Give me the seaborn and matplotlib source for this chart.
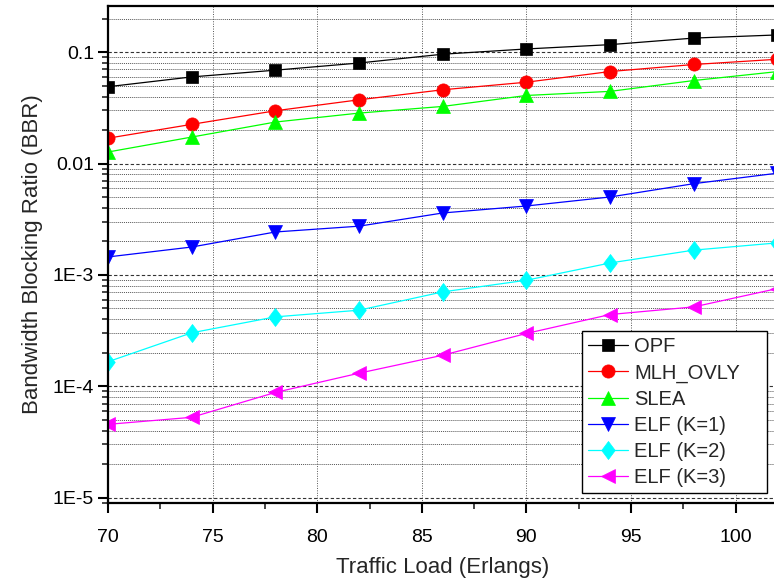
import numpy as np
import pandas as pd
import matplotlib
matplotlib.use("Agg")
import matplotlib.pyplot as plt
import matplotlib.ticker as mticker
from matplotlib.path import Path
import seaborn as sns

# traffic load values (Erlangs)
loads = [70, 74, 78, 82, 86, 90, 94, 98, 102]

# blocking ratio per algorithm
opf = [0.049, 0.060, 0.069, 0.080, 0.096, 0.107, 0.117, 0.134, 0.143]
mlh_ovly = [0.0169, 0.0225, 0.0298, 0.0374, 0.046, 0.0538, 0.0671, 0.0776, 0.0865]
slea = [0.0127, 0.0173, 0.0236, 0.0284, 0.0326, 0.0409, 0.0445, 0.0557, 0.067]
elf_k1 = [0.00145, 0.00178, 0.00243, 0.00274, 0.0036, 0.00416, 0.00501, 0.0066, 0.0082]
elf_k2 = [0.000166, 0.000302, 0.00042, 0.000482, 0.000704, 0.000896, 0.00128, 0.00167, 0.00194]
elf_k3 = [4.55e-5, 5.26e-5, 8.8e-5, 1.31e-4, 1.9e-4, 2.98e-4, 4.41e-4, 5.16e-4, 7.55e-4]

series_names = ["OPF", "MLH_OVLY", "SLEA", "ELF (K=1)", "ELF (K=2)", "ELF (K=3)"]
series_values = [opf, mlh_ovly, slea, elf_k1, elf_k2, elf_k3]

y_ticks = [1e-5, 1e-4, 1e-3, 1e-2, 1e-1]
y_tick_labels = ["1E-5", "1E-4", "1E-3", "0.01", "0.1"]
x_ticks = [70, 75, 80, 85, 90, 95, 100]

# diamond a bit narrower than tall, like the original
diamond = Path([(0, 1), (0.75, 0), (0, -1), (-0.75, 0), (0, 1)],
               [Path.MOVETO, Path.LINETO, Path.LINETO, Path.LINETO, Path.CLOSEPOLY])

colors = ["#000000", "#ff0000", "#00ff00", "#0000ff", "#00ffff", "#ff00ff"]
markers = ["s", "o", "^", "v", diamond, "<"]
msizes = [8.5, 9.5, 10, 10, 13, 10]

sns.set_style("ticks")
plt.rcParams["font.family"] = ["Liberation Sans", "DejaVu Sans"]

fig = plt.figure(figsize=(7.74, 5.85), dpi=100)
ax = fig.add_axes([0.1395, 0.1407, 0.865, 0.849])

for name, vals, c, m, ms in zip(series_names, series_values, colors, markers, msizes):
    df = pd.DataFrame({"load": loads, "bbr": vals})
    sns.lineplot(data=df, x="load", y="bbr", ax=ax, label=name, color=c,
                 marker=m, markersize=ms, markeredgecolor=c, markeredgewidth=0.5,
                 linewidth=0.9)

ax.set_yscale("log")
ax.set_xlim(70, 102)
ax.set_ylim(9e-6, 0.26)

ax.set_yticks(y_ticks)
ax.set_yticklabels(y_tick_labels)
ax.yaxis.set_minor_locator(mticker.LogLocator(base=10, subs=np.arange(2, 10), numticks=20))
ax.yaxis.set_minor_formatter(mticker.NullFormatter())
ax.set_xticks(x_ticks)
ax.xaxis.set_minor_locator(mticker.MultipleLocator(2.5))

ax.grid(True, which="major", axis="y", linestyle=(0, (3, 2)), color="#333333", linewidth=0.8)
ax.grid(True, which="minor", axis="y", linestyle=(0, (1, 1)), color="#555555", linewidth=0.7)
ax.grid(True, which="major", axis="x", linestyle=(0, (1, 1.5)), color="#555555", linewidth=0.7)

ax.tick_params(axis="both", which="major", direction="out", length=7, width=1.5,
               labelsize=14, colors="black")
ax.tick_params(axis="both", which="minor", direction="out", length=4, width=1.2)
ax.tick_params(axis="x", which="major", pad=12)
ax.tick_params(axis="y", which="major", pad=3)
for s in ax.spines.values():
    s.set_linewidth(1.6)
    s.set_color("black")

ax.set_xlabel("Traffic Load (Erlangs)", fontsize=16, labelpad=8)
ax.set_ylabel("Bandwidth Blocking Ratio (BBR)", fontsize=16, labelpad=7)

leg = ax.legend(loc="lower left", bbox_to_anchor=(0.708, 0.02, 0.277, 0.33),
                mode="expand", fontsize=14.5, frameon=True, fancybox=False,
                edgecolor="black", framealpha=1, borderpad=0.3, labelspacing=0.35,
                handlelength=2.0, handletextpad=0.3, borderaxespad=0)
leg.get_frame().set_linewidth(1.0)

fig.savefig("out.png", dpi=100)
